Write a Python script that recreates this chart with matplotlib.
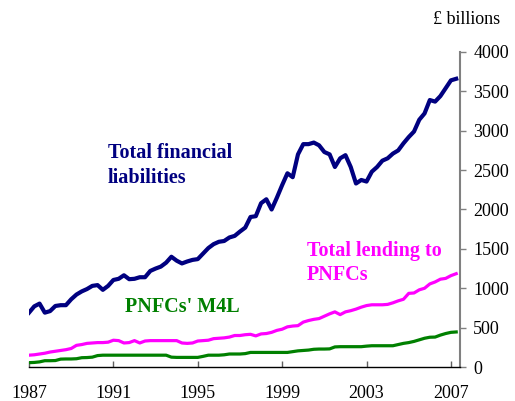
import matplotlib.pyplot as plt
import numpy as np

# quarterly, 1987 Q1 to 2007 Q2, £ billions
start_year = 1987
total_liabilities = [
    690, 770, 805, 690, 710, 775, 785, 785,
    860, 920, 960, 990, 1030, 1040, 980, 1030,
    1105, 1120, 1165, 1115, 1120, 1140, 1140, 1220,
    1250, 1275, 1325, 1400, 1350, 1315, 1340, 1360,
    1370, 1440, 1510, 1560, 1590, 1600, 1645, 1665,
    1720, 1770, 1905, 1915, 2080, 2130, 2000, 2150,
    2310, 2460, 2410, 2700, 2830, 2830, 2850, 2815,
    2730, 2700, 2540, 2650, 2690, 2540, 2330, 2375,
    2355, 2480, 2540, 2620, 2650, 2710, 2750, 2840,
    2920, 2990, 3140, 3220, 3390, 3370, 3440, 3540,
    3640, 3660,
]
total_lending = [
    150, 155, 165, 175, 190, 200, 210, 220,
    235, 275, 285, 300, 305, 310, 310, 315,
    340, 335, 305, 310, 335, 305, 330, 335,
    335, 335, 335, 335, 335, 305, 300, 305,
    330, 335, 340, 360, 365, 370, 380, 400,
    400, 410, 415, 395, 420, 425, 440, 465,
    480, 510, 520, 525, 570, 590, 605, 615,
    645, 675, 700, 665, 700, 715, 735, 760,
    780, 790, 790, 790, 795, 815, 840, 860,
    935, 940, 980, 1000, 1055, 1080, 1115, 1125,
    1160, 1185,
]
m4l = [
    55, 58, 65, 80, 80, 82, 100, 102,
    102, 105, 118, 120, 125, 145, 150, 150,
    150, 150, 150, 150, 150, 150, 150, 150,
    150, 150, 150, 125, 122, 122, 122, 122,
    122, 135, 150, 150, 150, 155, 165, 165,
    165, 170, 185, 185, 185, 185, 185, 185,
    185, 185, 195, 205, 210, 215, 225, 228,
    228, 230, 255, 258, 258, 258, 258, 258,
    265, 270, 270, 270, 270, 270, 285, 300,
    310, 325, 345, 365, 378, 380, 405, 425,
    440, 445,
]
year_ticks = [1987, 1991, 1995, 1999, 2003, 2007]
value_ticks = [0, 500, 1000, 1500, 2000, 2500, 3000, 3500, 4000]

years = start_year + np.arange(len(total_liabilities)) / 4

plt.rcParams["font.family"] = ["Liberation Serif", "DejaVu Serif"]

fig = plt.figure(figsize=(5.15, 4.01), dpi=100)
ax = fig.add_axes([29 / 515, 34 / 401, 431 / 515, 315 / 401])

ax.plot(years, total_liabilities, color="#000080", lw=3.0, solid_joinstyle="round")
ax.plot(years, total_lending, color="#FF00FF", lw=2.3, solid_joinstyle="round")
ax.plot(years, m4l, color="#008000", lw=2.3, solid_joinstyle="round")

ax.set_xlim(1987, 2007.43)
ax.set_ylim(0, 4000)
ax.set_xticks(year_ticks)
ax.set_yticks(value_ticks)

for side in ["left", "top"]:
    ax.spines[side].set_visible(False)
ax.spines["bottom"].set_color("black")
ax.spines["bottom"].set_linewidth(1.0)
ax.spines["right"].set_color("#808080")
ax.spines["right"].set_linewidth(1.5)

ax.yaxis.tick_right()
ax.tick_params(axis="y", direction="out", length=4.5, width=1, color="#808080",
               pad=5, labelsize=13)
ax.tick_params(axis="x", direction="in", length=4, width=1, color="#606060",
               pad=13, labelsize=13)

fig.text(467 / 515, 1 - 20 / 401, "£ billions", ha="center", va="center", fontsize=13)

ax.text(1990.74, 2840, "Total financial\nliabilities", color="#000080",
        fontsize=14.5, fontweight="bold", ha="left", va="top", linespacing=1.3)
ax.text(2000.18, 1600, "Total lending to\nPNFCs", color="#FF00FF",
        fontsize=14.5, fontweight="bold", ha="left", va="top", linespacing=1.3)
ax.text(1991.55, 762, "PNFCs' M4L", color="#008000",
        fontsize=14.5, fontweight="bold", ha="left", va="center")

fig.savefig("out.png", dpi=100)
